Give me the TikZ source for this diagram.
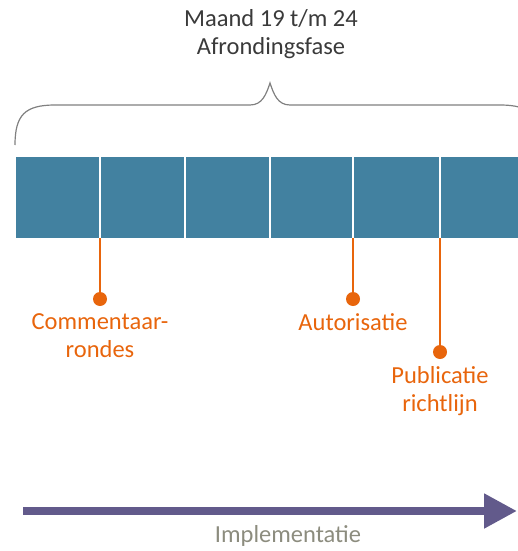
\documentclass[tikz,border=0pt]{standalone}
\usepackage{fontspec}
\setmainfont{Carlito}
\usetikzlibrary{positioning,arrows.meta}
\definecolor{balk}{HTML}{4281A0}
\definecolor{oranje}{HTML}{E8650C}
\definecolor{paars}{HTML}{625A8B}
\definecolor{grijs}{HTML}{8C8C7E}
\definecolor{kopgrijs}{HTML}{3A3A3A}
\begin{document}
\begin{tikzpicture}[x=1pt,y=-1pt,
    kop/.style={align=center, text=kopgrijs, font=\fontsize{24.5}{28}\selectfont, inner sep=0pt},
    stip/.style={circle, fill=oranje, inner sep=0pt, minimum size=14pt},
    mijl/.style={align=center, text=oranje, font=\fontsize{24.5}{28}\selectfont, inner sep=0pt},
    lijn/.style={oranje, line width=1.8pt}]
    \useasboundingbox (0,0) rectangle (517,551);

    % Titel
    \node[kop] (titel) at (271,34) {Maand 19 t/m 24\\Afrondingsfase};

    % Accolade
    \draw[gray, line width=1.2pt] (15,145) .. controls (15,115) and (25,105) .. (55,105) -- (250,105)
        .. controls (262,105) and (266,95) .. (270,83) .. controls (274,95) and (278,105) .. (290,105)
        -- (500,105) .. controls (530,105) and (540,115) .. (540,145);

    % Balk met maanden
    \fill[balk] (16,157) rectangle (530,238);
    \foreach \x in {100,185,270,353,440}
        \draw[white, line width=1.5pt] (\x,157) -- (\x,238);

    % Mijlpalen
    \coordinate (m1) at (100,238);
    \coordinate (m2) at (353,238);
    \coordinate (m3) at (440,238);
    \node[stip] (d1) at (100,299) {};
    \node[stip] (d2) at (353,299) {};
    \node[stip] (d3) at (440,352) {};
    \draw[lijn] (m1) -- (d1);
    \draw[lijn] (m2) -- (d2);
    \draw[lijn] (m3) -- (d3);
    \node[mijl, below=7pt of d1] (t1) {Commentaar-\\rondes};
    \node[mijl, below=7pt of d2] (t2) {Autorisatie};
    \node[mijl, below=7pt of d3] (t3) {Publicatie\\richtlijn};

    % Pijl
    \coordinate (p1) at (23,511);
    \coordinate (p2) at (517,511);
    \draw[paars, line width=8pt, -{Triangle[length=33pt,width=33pt]}] (p1) -- (p2);
    \node[text=grijs, font=\fontsize{24.5}{28}\selectfont, inner sep=0pt] (impl) at (288,536) {Implementatie};
\end{tikzpicture}
\end{document}
